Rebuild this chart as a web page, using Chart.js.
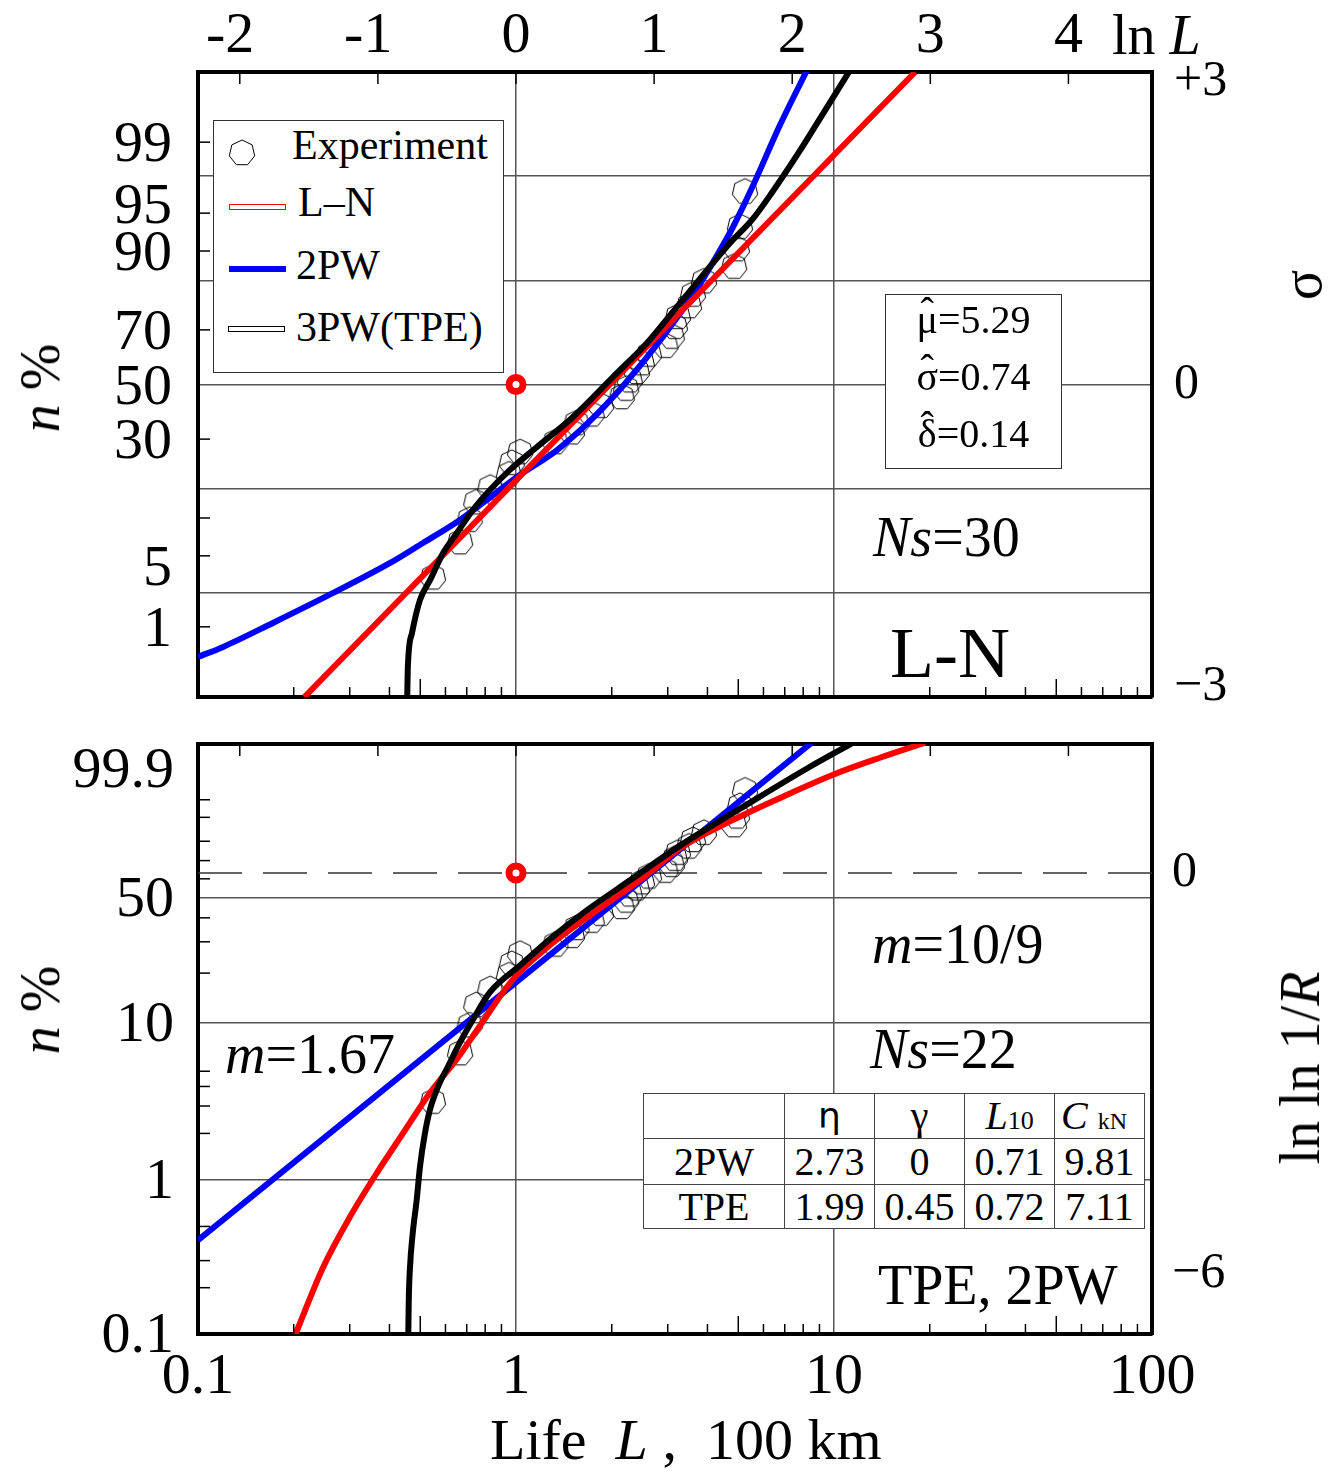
<!DOCTYPE html>
<html>
<head>
<meta charset="utf-8">
<script src="https://cdn.jsdelivr.net/npm/chart.js@4.4.1/dist/chart.umd.min.js"></script>
<style>
  body { margin: 0; background: #fff; }
  #page { position: relative; width: 1338px; height: 1475px; overflow: hidden;
          font-family: 'Liberation Serif', 'Times New Roman', serif; color: #000; }
  #page canvas.chart { position: absolute; left: 0; }
  .lbl { position: absolute; white-space: nowrap; line-height: 1; transform: translateY(-56%); }
  .rot { position: absolute; white-space: nowrap; line-height: 1; transform: translate(-50%, -50%) rotate(-90deg); }
  .box { position: absolute; box-sizing: border-box; background: #fff; border: 1.5px solid #333; }
  .box .lbl { font-size: 42px; }
  .swatch { position: absolute; box-sizing: border-box; width: 57px; height: 6px; border-width: 1.5px; border-style: solid; }
  #params .lbl { font-size: 40px; left: 0; width: 100%; text-align: center; }
  .hat { position: relative; display: inline-block; }
  .hat span { position: absolute; left: 0; width: 100%; text-align: center; top: -0.2em; }
  #wtable { position: absolute; left: 643px; top: 1093px; border-collapse: collapse; background: #fff;
            font-size: 40px; line-height: 1; }
  #wtable td { border: 1.5px solid #444; padding: 0; text-align: center; }
  i { font-style: italic; }
</style>
</head>
<body>
<div id="page">
  <canvas id="chart-ln" class="chart" style="top:0" width="1338" height="718"></canvas>
  <canvas id="chart-wb" class="chart" style="top:718px" width="1338" height="757"></canvas>

  <div class="lbl" style="left:1112px; top:38px; font-size:56px;">ln <i>L</i></div>
  <div class="rot" style="left:40px; top:388px; font-size:56px;"><i>n</i> %</div>
  <div class="rot" style="left:40px; top:1010px; font-size:56px;"><i>n</i> %</div>
  <div class="rot" style="left:1302px; top:285px; font-size:56px;">σ</div>
  <div class="rot" style="left:1300px; top:1068px; font-size:56px;">ln ln 1/<i>R</i></div>
  <div class="lbl" style="left:490px; top:1443px; font-size:58px;">Life&nbsp; <i>L</i> ,&nbsp; 100 km</div>

  <div id="legend" class="box" style="left:213px; top:120px; width:291px; height:253px;">
    <div class="lbl" style="left:78px; top:27px;">Experiment</div>
    <div class="swatch" style="left:15px; top:83px; border-color:#f00;"></div>
    <div class="lbl" style="left:84px; top:84px;">L–N</div>
    <div class="swatch" style="left:15px; top:145px; border-color:#00f; background:#00f;"></div>
    <div class="lbl" style="left:82px; top:147px;">2PW</div>
    <div class="swatch" style="left:14px; top:205px; border-color:#000;"></div>
    <div class="lbl" style="left:82px; top:209px;">3PW(TPE)</div>
  </div>

  <div id="params" class="box" style="left:885px; top:294px; width:177px; height:175px; border-width:1px;">
    <div class="lbl" style="top:27px;"><span class="hat">μ<span>ˆ</span></span>=5.29</div>
    <div class="lbl" style="top:84px;"><span class="hat">σ<span>ˆ</span></span>=0.74</div>
    <div class="lbl" style="top:141px;"><span class="hat">δ<span>ˆ</span></span>=0.14</div>
  </div>

  <div class="lbl" style="left:873px; top:540px; font-size:56px;"><i>Ns</i>=30</div>
  <div class="lbl" style="left:890px; top:657px; font-size:72px;">L-N</div>
  <div class="lbl" style="left:872px; top:947px; font-size:56px;"><i>m</i>=10/9</div>
  <div class="lbl" style="left:870px; top:1052px; font-size:56px;"><i>Ns</i>=22</div>
  <div class="lbl" style="left:225px; top:1057px; font-size:56px;"><i>m</i>=1.67</div>
  <div class="lbl" style="left:878px; top:1288px; font-size:56px;">TPE, 2PW</div>

  <table id="wtable">
    <colgroup><col style="width:141px"><col style="width:90px"><col style="width:90px"><col style="width:90px"><col style="width:90px"></colgroup>
    <tr style="height:45px">
      <td></td>
      <td style="font-family:'DejaVu Sans',sans-serif; font-size:36px;">η</td>
      <td>γ</td>
      <td><i>L</i><span style="font-size:26px">10</span></td>
      <td style="text-align:left; padding-left:6px;"><i>C</i>&nbsp;<span style="font-size:24px">kN</span></td>
    </tr>
    <tr style="height:46px"><td>2PW</td><td>2.73</td><td>0</td><td>0.71</td><td>9.81</td></tr>
    <tr style="height:44px"><td>TPE</td><td>1.99</td><td>0.45</td><td>0.72</td><td>7.11</td></tr>
  </table>
</div>

<script>
// life axis, 100 km
const lifeTicks = [0.1, 1, 10, 100];
const lifeMinor = [0.2, 0.3, 0.4, 0.6, 0.7, 0.8, 0.9, 2, 3, 4, 6, 7, 8, 9, 20, 30, 40, 60, 70, 80, 90];
const lifeFives = [0.5, 5, 50];
const lnLifeTicks = [-2, -1, 0, 1, 2, 3, 4];

// failure probability ticks, %
const lnPctLabels = [1, 5, 30, 50, 70, 90, 95, 99];
const lnPctMarks = [1, 5, 10, 30, 70, 90, 95, 99];
const sigmaGrid = [-3, -2, -1, 0, 1, 2, 3];
const wbPctLabels = [0.1, 1, 10, 50, 99.9];
const wbPctMarks = [0.2, 0.3, 0.5, 2, 3, 4, 5, 20, 30, 40, 60, 70, 80, 90, 95];
const lnlnTicks = [-6, 0];

// test results (shared by both panels)
const expLife = [0.548, 0.667, 0.715, 0.75, 0.83, 0.95, 0.97, 1.03, 1.33, 1.50,
                 1.55, 1.73, 1.85, 2.15, 2.22, 2.28, 2.40, 2.49, 2.62, 2.95,
                 3.09, 3.16, 3.23, 3.50, 3.60, 3.90, 4.85, 4.95, 5.06, 5.25];
const expFail = [3.2, 6.5, 9.7, 12.9, 16.1, 19.4, 22.6, 25.8, 29.0, 32.3,
                 35.5, 38.7, 41.9, 45.2, 48.4, 51.6, 54.8, 58.1, 61.3, 64.5,
                 67.7, 71.0, 74.2, 77.4, 80.6, 83.9, 87.1, 90.3, 93.5, 96.8];

// fitted curves on log-normal paper (life, sigma)
const lnRedLife = [0.216, 18.0];
const lnRedSigma = [-3.0, 3.0];
const lnBlueLife = [0.100, 0.120, 0.172, 0.266, 0.402, 0.510, 0.652, 0.787, 1.007, 1.346,
                    1.709, 2.190, 2.900, 3.709, 4.212, 4.813, 5.555, 6.741, 8.295];
const lnBlueSigma = [-2.615, -2.519, -2.289, -2.001, -1.713, -1.521, -1.320, -1.137, -0.888, -0.629,
                     -0.350, 0.0, 0.46, 0.92, 1.20, 1.512, 1.905, 2.481, 3.04];
const lnBlackLife = [0.455, 0.457, 0.471, 0.499, 0.537, 0.590, 0.652, 0.732, 0.828, 0.957,
                     1.164, 1.511, 2.018, 2.582, 3.280, 4.710, 5.555, 6.377, 7.740, 9.135, 11.3];
const lnBlackSigma = [-3.0, -2.711, -2.385, -2.068, -1.876, -1.617, -1.425, -1.204, -1.012, -0.820,
                      -0.600, -0.312, 0.072, 0.398, 0.782, 1.358, 1.59, 1.841, 2.225, 2.577, 3.03];

// fitted curves on Weibull paper (life, ln ln 1/R)
const wbRedLife = [0.2018, 0.2477, 0.3006, 0.3648, 0.4420, 0.5365, 0.6510, 0.7705, 0.98, 1.310,
                   1.750, 2.576, 3.280, 4.710, 6.766, 9.98, 13.95, 19.33];
const wbRedLnln = [-6.93, -5.904, -5.151, -4.497, -3.895, -3.292, -2.791, -2.289, -1.59, -1.04,
                   -0.60, -0.03, 0.372, 0.774, 1.125, 1.476, 1.727, 1.953];
const wbBlueLife = [0.1, 8.51];
const wbBlueLnln = [-5.50, 1.953];
const wbBlackLife = [0.4584, 0.4600, 0.4642, 0.4733, 0.4872, 0.4990, 0.5174, 0.5365, 0.5696, 0.6124,
                     0.6667, 0.7340, 0.8283, 1.029, 1.310, 1.669, 2.283, 3.280, 5.315, 8.30, 11.5];
const wbBlackLnln = [-6.93, -6.405, -5.904, -5.401, -4.899, -4.398, -3.895, -3.544, -3.193, -2.892,
                     -2.539, -2.188, -1.786, -1.386, -0.95, -0.56, -0.11, 0.41, 1.024, 1.577, 1.953];

// scale-parameter marker
const markLife = 1;
const markSigma = 0;
const markLnln = 0;

// inverse of the standard normal CDF (Acklam)
function probit(p) {
  const a = [-39.69683028665376, 220.9460984245205, -275.9285104469687, 138.3577518672690, -30.66479806614716, 2.506628277459239];
  const b = [-54.47609879822406, 161.5858368580409, -155.6989798598866, 66.80131188771972, -13.28068155288572];
  const c = [-0.007784894002430293, -0.3223964580411365, -2.400758277161838, -2.549732539343734, 4.374664141464968, 2.938163982698783];
  const d = [0.007784695709041462, 0.3224671290700398, 2.445134137142996, 3.754408661907416];
  const tail = q => (((((c[0] * q + c[1]) * q + c[2]) * q + c[3]) * q + c[4]) * q + c[5]) /
                    ((((d[0] * q + d[1]) * q + d[2]) * q + d[3]) * q + 1);
  if (p < 0.02425) return tail(Math.sqrt(-2 * Math.log(p)));
  if (p > 1 - 0.02425) return -tail(Math.sqrt(-2 * Math.log(1 - p)));
  const q = p - 0.5, r = q * q;
  return (((((a[0] * r + a[1]) * r + a[2]) * r + a[3]) * r + a[4]) * r + a[5]) * q /
         (((((b[0] * r + b[1]) * r + b[2]) * r + b[3]) * r + b[4]) * r + 1);
}
const sigmaOf = pct => probit(pct / 100);
const lnlnOf = pct => Math.log(-Math.log(1 - pct / 100));

const toPoints = (xs, ys) => xs.map((x, i) => ({ x, y: ys[i] }));

function polygonMarker(r, sides) {
  const c = document.createElement('canvas');
  const size = Math.ceil(2 * r + 4);
  c.width = c.height = size;
  const g = c.getContext('2d');
  g.strokeStyle = '#000';
  g.lineWidth = 1;
  g.beginPath();
  for (let k = 0; k < sides; k++) {
    const ang = -Math.PI / 2 + k * 2 * Math.PI / sides;
    const px = size / 2 + r * Math.cos(ang);
    const py = size / 2 + r * Math.sin(ang);
    if (k) g.lineTo(px, py); else g.moveTo(px, py);
  }
  g.closePath();
  g.stroke();
  return c;
}
const hexMark = polygonMarker(13, 7);

const legendMark = polygonMarker(13, 7);
legendMark.style.cssText = 'position:absolute; left:' + (28 - legendMark.width / 2) + 'px; top:' + (32 - legendMark.height / 2) + 'px;';
document.getElementById('legend').appendChild(legendMark);

// short tick marks pointing into the plot area
const inwardTicks = {
  id: 'inwardTicks',
  afterDraw(chart, args, opts) {
    const { ctx, chartArea: area } = chart;
    ctx.save();
    ctx.strokeStyle = '#000';
    ctx.lineWidth = 1.5;
    for (const set of opts.sets) {
      const scale = chart.scales[set.scale];
      for (const v of set.values) {
        const p = scale.getPixelForValue(v);
        ctx.beginPath();
        if (set.side === 'bottom') { ctx.moveTo(p, area.bottom); ctx.lineTo(p, area.bottom - set.len); }
        if (set.side === 'top') { ctx.moveTo(p, area.top); ctx.lineTo(p, area.top + set.len); }
        if (set.side === 'left') { ctx.moveTo(area.left, p); ctx.lineTo(area.left + set.len, p); }
        ctx.stroke();
      }
    }
    ctx.restore();
  }
};

const serif = "'Liberation Serif', 'Times New Roman', serif";
const gridColor = '#555';
const frame = { color: '#000', width: 4 };

function fixSize(prop, size) {
  return scale => {
    scale[prop] = size;
    scale.paddingTop = 0; scale.paddingBottom = 0;
    scale.paddingLeft = 0; scale.paddingRight = 0;
  };
}

function curve(life, vals, color, order) {
  return {
    data: toPoints(life, vals),
    showLine: true,
    borderColor: color,
    borderWidth: 6,
    pointRadius: 0,
    cubicInterpolationMode: 'monotone',
    order
  };
}

function experiment(ys) {
  return {
    data: toPoints(expLife, ys),
    pointStyle: hexMark,
    pointRadius: 13,
    order: 5
  };
}

function marker(y) {
  return {
    data: [{ x: markLife, y }],
    pointStyle: 'circle',
    pointRadius: 7,
    borderWidth: 7,
    borderColor: '#f00',
    backgroundColor: '#fff',
    order: 4
  };
}

const xTopScale = (height, showLabels) => ({
  type: 'linear',
  position: 'top',
  min: Math.log(0.1),
  max: Math.log(100),
  afterBuildTicks: s => { s.ticks = lnLifeTicks.map(v => ({ value: v })); },
  ticks: {
    display: showLabels,
    padding: 0,
    color: '#000',
    font: { family: serif, size: 58 },
    // the sign hangs to the left of the digit
    callback: v => (v < 0 ? '-' + Math.abs(v) + '\u2004' : String(v))
  },
  grid: { drawOnChartArea: false, drawTicks: false },
  border: frame,
  afterFit: fixSize('height', height)
});

// labels nudged off crowded tick positions: one blank line above or below
function lnPctLabel(v, i) {
  const txt = String(lnPctLabels[i]);
  if (lnPctLabels[i] === 95) return [txt, ''];
  if (lnPctLabels[i] === 5) return ['', txt];
  return txt;
}

// log-normal probability paper
new Chart(document.getElementById('chart-ln'), {
  type: 'scatter',
  data: {
    datasets: [
      curve(lnBlackLife, lnBlackSigma, '#000', 1),
      curve(lnRedLife, lnRedSigma, '#f00', 2),
      curve(lnBlueLife, lnBlueSigma, '#00f', 3),
      marker(markSigma),
      experiment(expFail.map(sigmaOf))
    ]
  },
  options: {
    responsive: false,
    animation: false,
    layout: { padding: 0 },
    plugins: {
      legend: { display: false },
      tooltip: { enabled: false },
      inwardTicks: {
        sets: [
          { scale: 'x', side: 'bottom', values: lifeMinor, len: 10 },
          { scale: 'x', side: 'bottom', values: lifeFives, len: 18 },
          { scale: 'xTop', side: 'top', values: lnLifeTicks, len: 12 },
          { scale: 'y', side: 'left', values: lnPctMarks.map(sigmaOf), len: 12 }
        ]
      }
    },
    scales: {
      x: {
        type: 'logarithmic',
        position: 'bottom',
        min: 0.1,
        max: 100,
        afterBuildTicks: s => { s.ticks = lifeTicks.map(v => ({ value: v })); },
        ticks: { display: false },
        grid: { color: gridColor, lineWidth: 1.5, drawTicks: false },
        border: frame,
        afterFit: fixSize('height', 21)
      },
      xTop: xTopScale(72, true),
      y: {
        type: 'linear',
        position: 'left',
        min: -3,
        max: 3,
        afterBuildTicks: s => { s.ticks = lnPctLabels.map(v => ({ value: sigmaOf(v) })); },
        ticks: {
          padding: 26,
          labelOffset: 4,
          color: '#000',
          font: { family: serif, size: 58, lineHeight: 0.34 },
          callback: lnPctLabel
        },
        grid: { drawOnChartArea: false, drawTicks: false },
        border: frame,
        afterFit: fixSize('width', 198)
      },
      yR: {
        type: 'linear',
        position: 'right',
        min: -3,
        max: 3,
        afterBuildTicks: s => { s.ticks = sigmaGrid.map(v => ({ value: v })); },
        ticks: {
          padding: 22,
          color: '#000',
          font: { family: serif, size: 50, lineHeight: 0.4 },
          callback: v => (v === 3 ? ['', '+3'] : v === -3 ? ['−3', ''] : v === 0 ? '0' : '')
        },
        grid: { color: gridColor, lineWidth: 1.5, drawTicks: false },
        border: frame,
        afterFit: fixSize('width', 186)
      }
    }
  },
  plugins: [inwardTicks]
});

// Weibull probability paper
new Chart(document.getElementById('chart-wb'), {
  type: 'scatter',
  data: {
    datasets: [
      curve(wbBlackLife, wbBlackLnln, '#000', 1),
      curve(wbRedLife, wbRedLnln, '#f00', 2),
      curve(wbBlueLife, wbBlueLnln, '#00f', 3),
      marker(markLnln),
      experiment(expFail.map(lnlnOf)),
      {
        data: [{ x: lifeTicks[0], y: markLnln }, { x: lifeTicks[lifeTicks.length - 1], y: markLnln }],
        showLine: true,
        borderColor: '#333',
        borderWidth: 1.5,
        borderDash: [44, 21],
        pointRadius: 0,
        order: 6
      }
    ]
  },
  options: {
    responsive: false,
    animation: false,
    layout: { padding: 0 },
    plugins: {
      legend: { display: false },
      tooltip: { enabled: false },
      inwardTicks: {
        sets: [
          { scale: 'x', side: 'bottom', values: lifeMinor, len: 10 },
          { scale: 'x', side: 'bottom', values: lifeFives, len: 18 },
          { scale: 'xTop', side: 'top', values: lnLifeTicks, len: 12 },
          { scale: 'y', side: 'left', values: wbPctMarks.map(lnlnOf), len: 12 }
        ]
      }
    },
    scales: {
      x: {
        type: 'logarithmic',
        position: 'bottom',
        min: 0.1,
        max: 100,
        afterBuildTicks: s => { s.ticks = lifeTicks.map(v => ({ value: v })); },
        ticks: {
          padding: 9,
          color: '#000',
          font: { family: serif, size: 58 },
          callback: (v, i) => String(lifeTicks[i])
        },
        grid: { color: gridColor, lineWidth: 1.5, drawTicks: false },
        border: frame,
        afterFit: fixSize('height', 141)
      },
      xTop: xTopScale(26, false),
      y: {
        type: 'linear',
        position: 'left',
        min: lnlnOf(wbPctLabels[0]),
        max: lnlnOf(wbPctLabels[wbPctLabels.length - 1]),
        afterBuildTicks: s => { s.ticks = wbPctLabels.map(v => ({ value: lnlnOf(v) })); },
        ticks: {
          padding: 24,
          labelOffset: 3,
          color: '#000',
          font: { family: serif, size: 58, lineHeight: 0.85 },
          callback: (v, i) => (i === wbPctLabels.length - 1 ? ['', String(wbPctLabels[i])] : String(wbPctLabels[i]))
        },
        grid: { color: gridColor, lineWidth: 1.5, drawTicks: false },
        border: frame,
        afterFit: fixSize('width', 198)
      },
      yR: {
        type: 'linear',
        position: 'right',
        min: lnlnOf(wbPctLabels[0]),
        max: lnlnOf(wbPctLabels[wbPctLabels.length - 1]),
        afterBuildTicks: s => { s.ticks = lnlnTicks.map(v => ({ value: v })); },
        ticks: {
          padding: 20,
          color: '#000',
          font: { family: serif, size: 50 },
          callback: v => (v < 0 ? '−' + Math.abs(v) : String(v))
        },
        grid: { drawOnChartArea: false, drawTicks: false },
        border: frame,
        afterFit: fixSize('width', 186)
      }
    }
  },
  plugins: [inwardTicks]
});
</script>
</body>
</html>
